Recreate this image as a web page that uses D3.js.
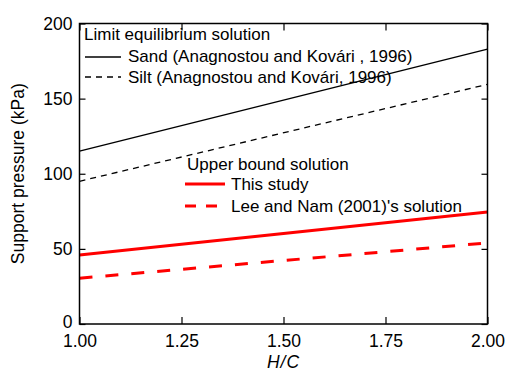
<!DOCTYPE html>
<html><head><meta charset="utf-8">
<script src="https://cdn.jsdelivr.net/npm/d3@7"></script>
<style>body{margin:0;background:#fff}svg{display:block}text{font-family:Arial,"Liberation Sans",sans-serif}</style>
</head><body><svg id="c" width="508" height="371"></svg>
<script>
const hc = [1.00, 2.00];
const sand = [115, 183];
const silt = [95, 159.5];
const thisStudy = [46, 74.5];
const leeNam = [30.5, 54];
const xTicks = [1.00, 1.25, 1.50, 1.75, 2.00];
const yTicks = [0, 50, 100, 150, 200];

const svg = d3.select("#c");
const L = 79.5, R = 487.5, T = 23.5, B = 324;
const x = d3.scaleLinear().domain([1, 2]).range([L, R]);
const y = d3.scaleLinear().domain([0, 200]).range([B, T]);

const series = [
  {v: sand, color: "#000", w: 1.3, dash: null},
  {v: silt, color: "#000", w: 1.3, dash: "6,5"},
  {v: thisStudy, color: "#f00", w: 3, dash: null},
  {v: leeNam, color: "#f00", w: 3, dash: "13,13"}
];
const line = d3.line().x((d, i) => x(hc[i])).y(d => y(d));
series.forEach(s => {
  svg.append("path").attr("d", line(s.v)).attr("fill", "none")
    .attr("stroke", s.color).attr("stroke-width", s.w)
    .attr("stroke-dasharray", s.dash);
});

// axes
const fmt = d3.format(".2f");
const gx = svg.append("g").attr("transform", `translate(0,${B})`)
  .call(d3.axisBottom(x).tickValues(xTicks).tickFormat(fmt).tickSizeInner(-7).tickSizeOuter(0).tickPadding(11));
const gxt = svg.append("g").attr("transform", `translate(0,${T})`)
  .call(d3.axisTop(x).tickValues(xTicks).tickFormat("").tickSizeInner(-7).tickSizeOuter(0));
const gy = svg.append("g").attr("transform", `translate(${L},0)`)
  .call(d3.axisLeft(y).tickValues(yTicks).tickSizeInner(-6).tickSizeOuter(0).tickPadding(7));
const gyr = svg.append("g").attr("transform", `translate(${R},0)`)
  .call(d3.axisRight(y).tickValues(yTicks).tickFormat("").tickSizeInner(-6).tickSizeOuter(0));
[gx, gxt, gy, gyr].forEach(g => {
  g.select(".domain").remove();
  g.selectAll("line").attr("stroke", "#000").attr("stroke-width", 1.2);
  g.selectAll("text").attr("font-size", 17.5).attr("fill", "#000").attr("font-family", "Arial, 'Liberation Sans', sans-serif");
});
gy.selectAll("text").filter(d => d === 0).attr("dy", "0.2em");
svg.append("rect").attr("x", L).attr("y", T).attr("width", R - L).attr("height", B - T)
  .attr("fill", "none").attr("stroke", "#000").attr("stroke-width", 1.5);

// axis labels
svg.append("text").attr("x", (L + R) / 2).attr("y", 368).attr("text-anchor", "middle")
  .attr("font-size", 17.5).attr("font-style", "italic").attr("letter-spacing", 1).text("H/C");
svg.append("text").attr("transform", `translate(24,${(T + B) / 2}) rotate(-90)`)
  .attr("text-anchor", "middle").attr("font-size", 17.5).text("Support pressure (kPa)");

// legend
const fs = 17;
svg.append("text").attr("x", 84).attr("y", 40).attr("font-size", fs).text("Limit equilibrium solution");
svg.append("text").attr("x", 187).attr("y", 170).attr("font-size", fs).text("Upper bound solution");
const leg = [
  {x1: 85, x2: 121, ly: 57, tx: 128, ty: 62, color: "#000", w: 1.3, dash: null, t: "Sand (Anagnostou and Kovári , 1996)"},
  {x1: 85, x2: 121, ly: 77, tx: 128, ty: 83, color: "#000", w: 1.3, dash: "6,5", t: "Silt (Anagnostou and Kovári, 1996)"},
  {x1: 185, x2: 225, ly: 184, tx: 231, ty: 190, color: "#f00", w: 3, dash: null, t: "This study"},
  {x1: 185, x2: 225, ly: 206, tx: 231, ty: 212, color: "#f00", w: 3, dash: "11,10", t: "Lee and Nam (2001)'s solution"}
];
leg.forEach(d => {
  svg.append("line").attr("x1", d.x1).attr("x2", d.x2).attr("y1", d.ly).attr("y2", d.ly)
    .attr("stroke", d.color).attr("stroke-width", d.w).attr("stroke-dasharray", d.dash);
  svg.append("text").attr("x", d.tx).attr("y", d.ty).attr("font-size", fs).text(d.t);
});
</script></body></html>
